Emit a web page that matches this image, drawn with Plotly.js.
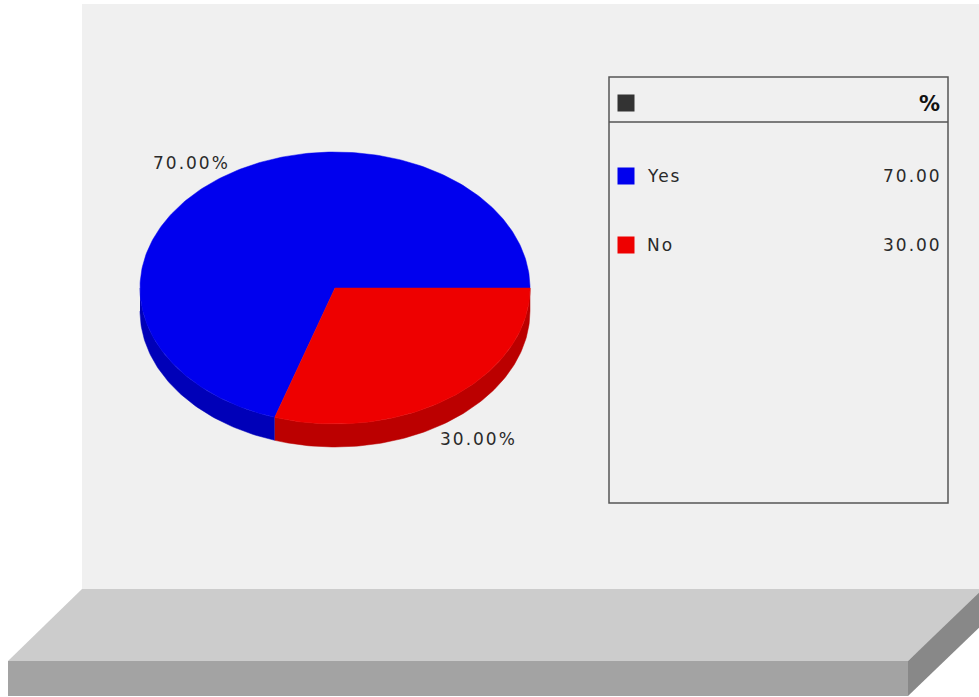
<!DOCTYPE html>
<html>
<head>
<meta charset="utf-8">
<script src="https://cdn.plot.ly/plotly-3.0.1.min.js"></script>
<style>html,body{margin:0;padding:0;background:#fff;}#chart{width:979px;height:697px;}</style>
</head>
<body>
<div id="chart"></div>
<script>
// ---- data ----
const categories = ['Yes', 'No'];
const values = [70, 30];
const legendHeader = '%';

// ---- style ----
const topColors = ['#0000ee', '#ee0000'];
const sideColors = ['#0000b8', '#bb0000'];
const FONT = 'DejaVu Sans, Verdana, sans-serif';
const TXT = '#2a2a2a';

// pie geometry (pixel-space axes)
const cx = 335, cy = 288, rx = 195, ry = 136, depth = 23;

const total = values.reduce((a, b) => a + b, 0);
const traces = [];
const annotations = [];

function pt(deg, dy) {
  const r = deg * Math.PI / 180;
  return [cx + rx * Math.cos(r), cy - ry * Math.sin(r) + (dy || 0)];
}

// compute slice angles (counterclockwise from 3 o'clock)
let start = 0;
const slices = values.map((v, i) => {
  const a0 = start, a1 = start + 360 * v / total;
  start = a1;
  return {a0, a1, i};
});

// side walls (front half: 180..360)
slices.forEach(s => {
  const lo = Math.max(s.a0, 180), hi = Math.min(s.a1, 360);
  if (hi <= lo) return;
  const xs = [], ys = [];
  for (let a = lo; a <= hi + 1e-9; a += 1) { const p = pt(Math.min(a, hi)); xs.push(p[0]); ys.push(p[1]); }
  { const p = pt(hi); xs.push(p[0]); ys.push(p[1]); }
  for (let a = hi; a >= lo - 1e-9; a -= 1) { const p = pt(Math.max(a, lo), depth); xs.push(p[0]); ys.push(p[1]); }
  { const p = pt(lo, depth); xs.push(p[0]); ys.push(p[1]); }
  traces.push({type: 'scatter', mode: 'lines', x: xs, y: ys, fill: 'toself',
    fillcolor: sideColors[s.i], line: {color: sideColors[s.i], width: 0.5},
    hoverinfo: 'skip', showlegend: false});
});

// top faces
slices.forEach(s => {
  const xs = [cx], ys = [cy];
  for (let a = s.a0; a <= s.a1 + 1e-9; a += 1) { const p = pt(Math.min(a, s.a1)); xs.push(p[0]); ys.push(p[1]); }
  { const p = pt(s.a1); xs.push(p[0]); ys.push(p[1]); }
  xs.push(cx); ys.push(cy);
  traces.push({type: 'scatter', mode: 'lines', x: xs, y: ys, fill: 'toself',
    fillcolor: topColors[s.i], line: {color: topColors[s.i], width: 0.5},
    hoverinfo: 'skip', showlegend: false, name: categories[s.i]});
  // label
  const mid = (s.a0 + s.a1) / 2 * Math.PI / 180;
  const lx = cx + 1.25 * rx * Math.cos(mid);
  const front = Math.sin(mid) < 0;
  const ly = cy - 1.14 * ry * Math.sin(mid) + (front ? depth + 3 : 0);
  annotations.push({x: lx, y: ly, xref: 'x', yref: 'y', showarrow: false,
    text: '<span style="letter-spacing:2px">' + (100 * values[s.i] / total).toFixed(2) + '%</span>',
    font: {family: FONT, size: 17, color: TXT}, xanchor: 'center', yanchor: 'middle'});
});

// legend
const lgX0 = 609, lgX1 = 948, lgY0 = 77, lgY1 = 503, lgHeadY = 122;
const rowY0 = 176, rowStep = 69;
traces.push({type: 'scatter', mode: 'markers',
  x: [626].concat(categories.map(() => 626)),
  y: [103].concat(categories.map((c, i) => rowY0 + i * rowStep)),
  marker: {symbol: 'square', size: 17, color: ['#333333'].concat(topColors), line: {width: 0}},
  hoverinfo: 'skip', showlegend: false});
annotations.push({x: 942, y: 104, xref: 'x', yref: 'y', showarrow: false, text: '<b>' + legendHeader + '</b>',
  font: {family: FONT, size: 21, color: '#111'}, xanchor: 'right', yanchor: 'middle'});
categories.forEach((c, i) => {
  const y = rowY0 + i * rowStep;
  annotations.push({x: 645, y: y, xref: 'x', yref: 'y', showarrow: false,
    text: '<span style="letter-spacing:2px">' + c + '</span>',
    font: {family: FONT, size: 17, color: TXT}, xanchor: 'left', yanchor: 'middle'});
  annotations.push({x: 944, y: y, xref: 'x', yref: 'y', showarrow: false,
    text: '<span style="letter-spacing:2px">' + values[i].toFixed(2) + '</span>',
    font: {family: FONT, size: 17, color: TXT}, xanchor: 'right', yanchor: 'middle'});
});

const shapes = [
  // wall
  {type: 'rect', xref: 'x', yref: 'y', x0: 82, x1: 985, y0: 4, y1: 589, fillcolor: '#f0f0f0', line: {width: 0}, layer: 'below'},
  // floor top
  {type: 'path', xref: 'x', yref: 'y', path: 'M82,589 L985,589 L985,590 L908,661 L8,661 Z', fillcolor: '#cccccc', line: {width: 0}, layer: 'below'},
  // floor front
  {type: 'rect', xref: 'x', yref: 'y', x0: 8, x1: 908, y0: 661, y1: 696, fillcolor: '#a3a3a3', line: {width: 0}, layer: 'below'},
  // floor side
  {type: 'path', xref: 'x', yref: 'y', path: 'M908,661 L983,589 L983,624 L908,696 Z', fillcolor: '#888888', line: {width: 0}, layer: 'below'},
  // legend box
  {type: 'rect', xref: 'x', yref: 'y', x0: lgX0, x1: lgX1, y0: lgY0, y1: lgY1, fillcolor: 'rgba(0,0,0,0)', line: {color: '#555', width: 1.5}},
  {type: 'line', xref: 'x', yref: 'y', x0: lgX0, x1: lgX1, y0: lgHeadY, y1: lgHeadY, line: {color: '#555', width: 1.5}}
];

const layout = {
  width: 979, height: 697,
  margin: {l: 0, r: 0, t: 0, b: 0},
  paper_bgcolor: '#ffffff', plot_bgcolor: 'rgba(0,0,0,0)',
  xaxis: {range: [0, 979], visible: false, fixedrange: true, showgrid: false, zeroline: false},
  yaxis: {range: [697, 0], visible: false, fixedrange: true, showgrid: false, zeroline: false},
  showlegend: false,
  shapes: shapes,
  annotations: annotations
};

Plotly.newPlot('chart', traces, layout, {displayModeBar: false, staticPlot: true});
</script>
</body>
</html>
